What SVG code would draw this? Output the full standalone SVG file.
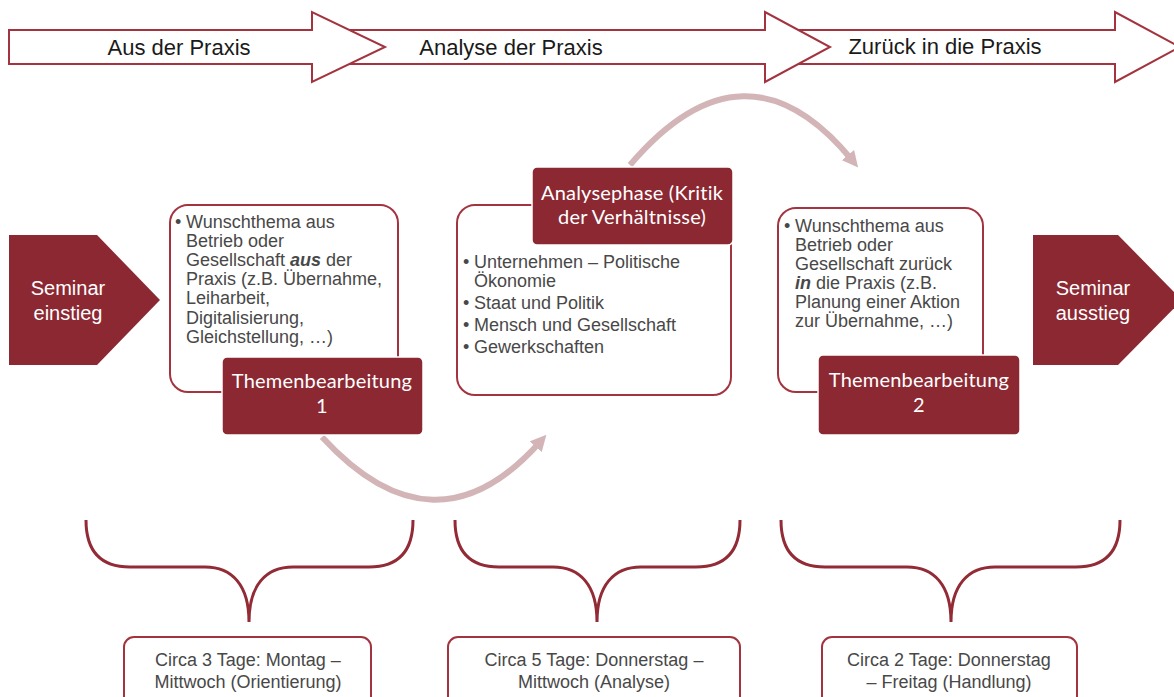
<svg xmlns="http://www.w3.org/2000/svg" width="1174" height="697" viewBox="0 0 1174 697">
<defs>
<style>
.bigarrow{fill:#fff;stroke:#A3343F;stroke-width:2}
.toptxt{font-family:"Liberation Sans",Arial,sans-serif;font-size:22px;fill:#1a1a1a;text-anchor:middle}
.penta{fill:#8B2832}
.wtxt{font-family:"Liberation Sans",Arial,sans-serif;font-size:20px;fill:#fff;text-anchor:middle}
.box{fill:#fff;stroke:#A3343F;stroke-width:2}
.btxt{font-family:"Liberation Sans",Arial,sans-serif;font-size:18px;fill:#484848}
.hdr{fill:#8B2832;stroke:#fff;stroke-width:1.5}
.htxt{font-family:Lato,"Open Sans",sans-serif;font-size:20px;fill:#fff;text-anchor:middle;letter-spacing:0.2px}
.arc{fill:none;stroke:#D3B5B8;stroke-width:6}
.brace{fill:none;stroke:#922B35;stroke-width:3;stroke-linejoin:round}
.stxt{font-family:"Liberation Sans",Arial,sans-serif;font-size:18px;fill:#484848;text-anchor:middle}
</style>
<marker id="ah" viewBox="0 0 10 10" refX="4" refY="5" markerWidth="16" markerHeight="16" markerUnits="userSpaceOnUse" orient="auto">
<path d="M0,0 L10,5 L0,10 Z" fill="#D3B5B8"/>
</marker>
</defs>

<g id="phase-arrows">
<path class="bigarrow" d="M785,30 H1115 V12 L1180,47 L1115,82 V64 H785 Z"/>
<path class="bigarrow" d="M330,30 H765 V12 L830,47 L765,82 V64 H330 Z"/>
<path class="bigarrow" d="M9,30 H312 V12 L385,47 L312,82 V64 H9 Z"/>
<text class="toptxt" x="179" y="55">Aus der Praxis</text>
<text class="toptxt" x="511" y="55">Analyse der Praxis</text>
<text class="toptxt" x="945" y="54">Zurück in die Praxis</text>
</g>

<g id="connectors">
<path class="arc" d="M322,437 Q435,560 540,442" marker-end="url(#ah)"/>
<path class="arc" d="M630,165 Q745,30 852,160" marker-end="url(#ah)"/>
</g>

<g id="seminar-einstieg">
<path class="penta" d="M9,235 H97 L160,300 L97,365 H9 Z"/>
<text class="wtxt" x="68" y="295">Seminar</text>
<text class="wtxt" x="68" y="320">einstieg</text>
</g>

<g id="box-praxis">
<rect class="box" x="170" y="205" width="228" height="187" rx="18"/>
<text class="btxt" x="175" y="228">•</text>
<text class="btxt" x="186" y="228">Wunschthema aus</text>
<text class="btxt" x="186" y="247">Betrieb oder</text>
<text class="btxt" x="186" y="266">Gesellschaft <tspan font-weight="bold" font-style="italic">aus</tspan> der</text>
<text class="btxt" x="186" y="285">Praxis (z.B. Übernahme,</text>
<text class="btxt" x="186" y="304">Leiharbeit,</text>
<text class="btxt" x="186" y="324">Digitalisierung,</text>
<text class="btxt" x="186" y="343">Gleichstellung,  …)</text>
</g>

<g id="themen1">
<rect class="hdr" x="222" y="357" width="201" height="78" rx="5"/>
<text class="htxt" x="322" y="388">Themenbearbeitung</text>
<text class="htxt" x="322" y="413">1</text>
</g>

<g id="box-analyse">
<rect class="box" x="457" y="205" width="274" height="190" rx="18"/>
<text class="btxt" x="463" y="268">•</text>
<text class="btxt" x="474" y="268">Unternehmen  – Politische</text>
<text class="btxt" x="474" y="287">Ökonomie</text>
<text class="btxt" x="463" y="309">•</text>
<text class="btxt" x="474" y="309">Staat und Politik</text>
<text class="btxt" x="463" y="331">•</text>
<text class="btxt" x="474" y="331">Mensch und Gesellschaft</text>
<text class="btxt" x="463" y="353">•</text>
<text class="btxt" x="474" y="353">Gewerkschaften</text>
</g>

<g id="analysephase">
<rect class="hdr" x="532" y="167" width="201" height="78" rx="5"/>
<text class="htxt" x="632" y="200">Analysephase (Kritik</text>
<text class="htxt" x="632" y="224">der Verhältnisse)</text>
</g>

<g id="box-zurueck">
<rect class="box" x="778" y="208" width="205" height="184" rx="18"/>
<text class="btxt" x="784" y="232">•</text>
<text class="btxt" x="795" y="232">Wunschthema aus</text>
<text class="btxt" x="795" y="251">Betrieb oder</text>
<text class="btxt" x="795" y="270">Gesellschaft zurück</text>
<text class="btxt" x="795" y="289"><tspan font-weight="bold" font-style="italic">in</tspan> die Praxis  (z.B.</text>
<text class="btxt" x="795" y="308">Planung einer Aktion</text>
<text class="btxt" x="795" y="327">zur Übernahme, …)</text>
</g>

<g id="themen2">
<rect class="hdr" x="818" y="355" width="202" height="80" rx="5"/>
<text class="htxt" x="919" y="387">Themenbearbeitung</text>
<text class="htxt" x="919" y="412">2</text>
</g>

<g id="seminar-ausstieg">
<path class="penta" d="M1033,235 H1118 L1182,300 L1118,365 H1033 Z"/>
<text class="wtxt" x="1093" y="295">Seminar</text>
<text class="wtxt" x="1093" y="320">ausstieg</text>
</g>

<g id="braces">
<path class="brace" d="M86,520 C86,550 100,567 130,567 H205 C232,567 249,585 249,622 M413,520 C413,550 399,567 369,567 H293 C266,567 249,585 249,622"/>
<path class="brace" d="M455,520 C455,550 469,567 499,567 H553 C580,567 597,585 597,622 M740,520 C740,550 726,567 696,567 H641 C614,567 597,585 597,622"/>
<path class="brace" d="M781,520 C781,550 795,567 825,567 H907 C934,567 951,585 951,622 M1120,520 C1120,550 1106,567 1076,567 H995 C968,567 951,585 951,622"/>
</g>

<g id="dauer1">
<rect class="box" x="124" y="637" width="247" height="72" rx="10"/>
<text class="stxt" x="248" y="666">Circa 3 Tage: Montag  –</text>
<text class="stxt" x="248" y="688">Mittwoch  (Orientierung)</text>
</g>
<g id="dauer2">
<rect class="box" x="448" y="637" width="292" height="72" rx="10"/>
<text class="stxt" x="594" y="666">Circa 5 Tage: Donnerstag  –</text>
<text class="stxt" x="594" y="688">Mittwoch  (Analyse)</text>
</g>
<g id="dauer3">
<rect class="box" x="822" y="637" width="255" height="72" rx="10"/>
<text class="stxt" x="949" y="666">Circa 2 Tage: Donnerstag</text>
<text class="stxt" x="949" y="688">– Freitag (Handlung)</text>
</g>
</svg>
